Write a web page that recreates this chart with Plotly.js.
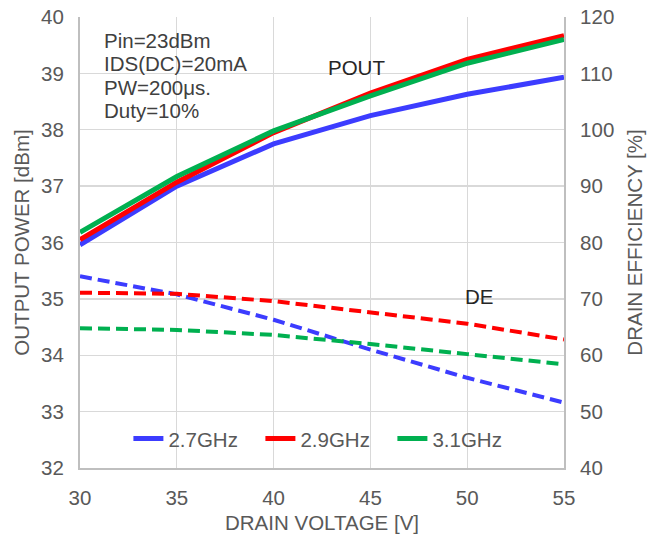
<!DOCTYPE html>
<html><head><meta charset="utf-8">
<script src="https://cdn.plot.ly/plotly-3.0.1.min.js"></script>
<style>body{margin:0;background:#fff}#c{width:659px;height:537px}</style>
</head><body><div id="c"></div>
<script>
const voltage = [30, 35, 40, 45, 50, 55];
const seriesNames = ["2.7GHz", "2.9GHz", "3.1GHz"];
const pout27 = [35.96, 37.0, 37.75, 38.25, 38.63, 38.93];
const pout29 = [36.05, 37.07, 37.95, 38.65, 39.25, 39.67];
const pout31 = [36.18, 37.17, 37.98, 38.6, 39.18, 39.6];
const de27 = [74.0, 70.8, 66.3, 61.0, 56.0, 51.6];
const de29 = [71.1, 70.9, 69.6, 67.6, 65.6, 62.8];
const de31 = [64.8, 64.5, 63.6, 62.0, 60.2, 58.4];
const conditions = ["Pin=23dBm", "IDS(DC)=20mA", "PW=200μs.", "Duty=10%"];
const colors = ["#3c3cff", "#ff0000", "#00b050"];

const pouts = [pout27, pout29, pout31];
const des = [de27, de29, de31];
const traces = [];
for (let i = 0; i < 3; i++) {
  traces.push({x: voltage, y: des[i], yaxis: "y2", mode: "lines", name: seriesNames[i],
    showlegend: false, line: {color: colors[i], width: 4, dash: "12px,6px"}});
}
for (let i = 0; i < 3; i++) {
  traces.push({x: voltage, y: pouts[i], mode: "lines", name: seriesNames[i],
    line: {color: colors[i], width: 5}});
}
const fam = "Liberation Sans, Arial, sans-serif";
const fs = 20.5;
const tickFont = {family: fam, size: fs, color: "#595959"};
const titleFont = {family: fam, size: fs, color: "#595959"};
const clear = "rgba(0,0,0,0)";
const annots = conditions.map((t, k) => ({xref: "paper", yref: "paper", x: 0.046,
  y: 1 - (40 + 23.5 * k - 17) / 451, xanchor: "left", yanchor: "middle", showarrow: false,
  text: t, font: {family: fam, size: fs, color: "#404040"}}));
annots.push({xref: "x", yref: "y", x: 44.3, y: 39.1, xanchor: "center", yanchor: "middle", showarrow: false,
  text: "POUT", font: {family: fam, size: fs, color: "#262626"}});
annots.push({xref: "x", yref: "y", x: 50.6, y: 35.04, xanchor: "center", yanchor: "middle", showarrow: false,
  text: "DE", font: {family: fam, size: fs, color: "#262626"}});
const layout = {
  width: 659, height: 537,
  margin: {l: 80, r: 95, t: 17, b: 69},
  paper_bgcolor: "#fff", plot_bgcolor: "#fff",
  showlegend: true,
  legend: {orientation: "h", x: 0.1, y: 0.065, xanchor: "left", yanchor: "middle",
    font: {family: fam, size: fs, color: "#595959"},
    bgcolor: clear, entrywidth: 87, entrywidthmode: "pixels"},
  xaxis: {range: [30, 55], tickvals: [30, 35, 40, 45, 50, 55], tickfont: tickFont,
    showgrid: true, gridcolor: "#d9d9d9", gridwidth: 1.3, zeroline: false,
    showline: true, linecolor: "#bfbfbf", linewidth: 2,
    ticks: "outside", ticklen: 10, tickcolor: clear,
    title: {text: "DRAIN VOLTAGE [V]", font: titleFont, standoff: 8}},
  yaxis: {range: [32, 40], dtick: 1, tickfont: tickFont,
    showgrid: true, gridcolor: "#d9d9d9", gridwidth: 1.3, zeroline: false,
    showline: true, linecolor: "#bfbfbf", linewidth: 2,
    ticks: "outside", ticklen: 10, tickcolor: clear,
    title: {text: "OUTPUT POWER [dBm]", font: titleFont, standoff: 6}},
  yaxis2: {range: [40, 120], dtick: 10, overlaying: "y", side: "right", tickfont: tickFont,
    showgrid: false, zeroline: false, showline: true, linecolor: "#bfbfbf", linewidth: 2,
    ticks: "outside", ticklen: 10, tickcolor: clear,
    title: {text: "DRAIN EFFICIENCY [%]", font: titleFont, standoff: 14}},
  annotations: annots
};
Plotly.newPlot("c", traces, layout, {staticPlot: true, displayModeBar: false});
</script></body></html>
